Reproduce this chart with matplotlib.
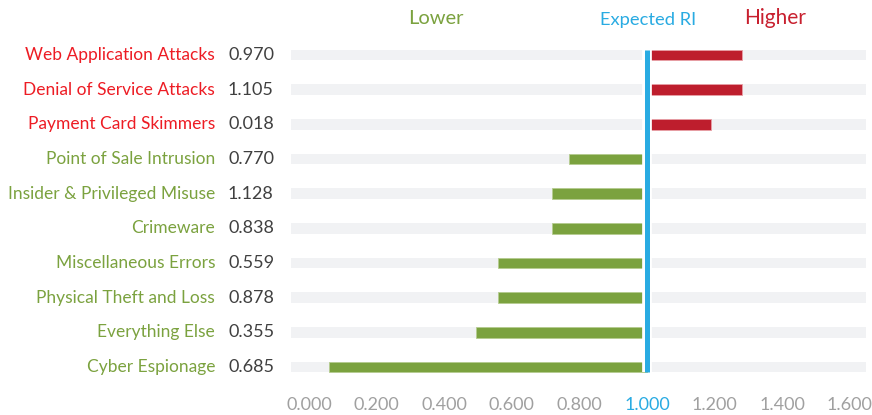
import matplotlib.pyplot as plt

plt.rcParams['font.family'] = ['Lato', 'DejaVu Sans']

# data, top row first
categories = ['Web Application Attacks', 'Denial of Service Attacks', 'Payment Card Skimmers',
              'Point of Sale Intrusion', 'Insider & Privileged Misuse', 'Crimeware',
              'Miscellaneous Errors', 'Physical Theft and Loss', 'Everything Else',
              'Cyber Espionage']
ri_labels = ['0.970', '1.105', '0.018', '0.770', '1.128', '0.838', '0.559', '0.878', '0.355', '0.685']
bar_values = [1.281, 1.281, 1.189, 0.769, 0.719, 0.719, 0.559, 0.559, 0.494, 0.058]
expected = 1.0
ticks = [0.0, 0.2, 0.4, 0.6, 0.8, 1.0, 1.2, 1.4, 1.6]

RED_TXT = '#ED1C24'
RED_BAR = '#BE1E2D'
GREEN = '#7BA23F'
BLUE = '#29ABE2'
GREY = '#F1F2F4'

fig = plt.figure(figsize=(8.72, 4.15), dpi=100)
ax = fig.add_axes([291 / 872, 0.074, (866 - 291) / 872, 0.8353])
xmin, xmax = -0.053, 1.648
ax.set_xlim(xmin, xmax)
ax.set_ylim(len(categories) - 0.5, -0.5)

rows = list(range(len(categories)))
h = 0.31
ax.barh(rows, [xmax - xmin] * len(rows), left=xmin, height=h, color=GREY, zorder=1)

for i, v in enumerate(bar_values):
    if v >= expected:
        ax.barh(i, v - expected, left=expected, height=h, color=RED_BAR,
                edgecolor='#E8A0A6', linewidth=0.6, zorder=2)
    else:
        ax.barh(i, expected - v, left=v, height=h, color=GREEN,
                edgecolor='#B5CC90', linewidth=0.6, zorder=2)

top, bot = -h / 2, len(categories) - 1 + h / 2
ax.vlines(expected, top, bot, color='white', linewidth=7, zorder=3)
ax.vlines(expected, top, bot, color=BLUE, linewidth=3.6, zorder=4)

for s in ax.spines.values():
    s.set_visible(False)
ax.set_yticks([])
ax.set_xticks(ticks)
ax.set_xticklabels(['%.3f' % t for t in ticks])
ax.tick_params(axis='x', length=0, pad=9, labelsize=13, labelcolor='#A0A0A0')
for lab, t in zip(ax.get_xticklabels(), ticks):
    if t == expected:
        lab.set_color(BLUE)

for i, (name, ri) in enumerate(zip(categories, ri_labels)):
    col = RED_TXT if bar_values[i] >= expected else GREEN
    y = 1 - (55 + i * 34.67) / 415
    fig.text(215 / 872, y, name, ha='right', va='center', fontsize=12.5, color=col)
    fig.text(228 / 872, y, ri, ha='left', va='center', fontsize=13, color='#404040')

fig.text(436 / 872, 1 - 18 / 415, 'Lower', ha='center', va='center', fontsize=14.5, color=GREEN)
fig.text(648 / 872, 1 - 20 / 415, 'Expected RI', ha='center', va='center', fontsize=13.2, color=BLUE)
fig.text(775 / 872, 1 - 18 / 415, 'Higher', ha='center', va='center', fontsize=15, color='#C8202F')

fig.savefig('out.png', dpi=100)
